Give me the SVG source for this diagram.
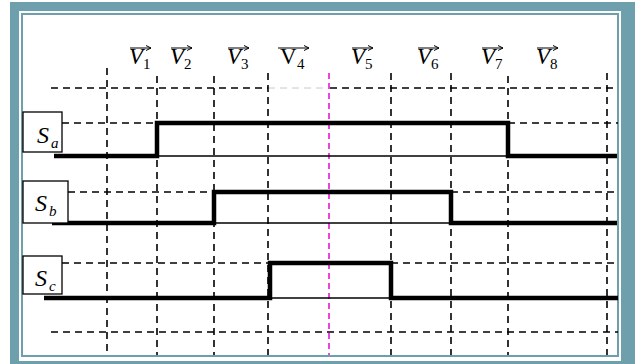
<svg xmlns="http://www.w3.org/2000/svg" width="635" height="364" viewBox="0 0 635 364">
<style>
.dash{stroke:#000;stroke-width:1.6;stroke-dasharray:7 5;fill:none}
.faint{stroke:#c8c8c8;stroke-width:1;stroke-dasharray:7 5;fill:none}
.mag{stroke:#ee44dd;stroke-width:2;stroke-dasharray:6 4;fill:none}
.sig{stroke:#000;stroke-width:4.5;fill:none;stroke-linejoin:miter}
.base{stroke:#000;stroke-width:1.3;fill:none}
.box{fill:#fff;stroke:#000;stroke-width:1.3}
.lbl{font-family:"Liberation Serif",serif;font-style:italic;font-size:23px;fill:#000}
.slbl{font-family:"Liberation Serif",serif;font-style:italic;font-size:24px;fill:#000}
.sub{font-family:"Liberation Serif",serif;font-style:italic;font-size:15px;fill:#000}
.subn{font-family:"Liberation Serif",serif;font-size:15px;fill:#000}
.arr{stroke:#000;stroke-width:1;fill:none}
</style>
<defs>
<marker id="ah" markerWidth="6" markerHeight="6" refX="5" refY="3" orient="auto" markerUnits="userSpaceOnUse">
<path d="M0,0.5 L5,3 L0,5.5" fill="none" stroke="#000" stroke-width="1"/>
</marker>
</defs>
<rect x="0" y="0" width="635" height="364" fill="#fff"/>
<rect x="10" y="2" width="625" height="362" fill="#6e9fad"/>
<rect x="19" y="11" width="602" height="350" fill="#fff"/>
<rect x="22" y="14" width="596" height="342" fill="none" stroke="#6e9fad" stroke-width="2"/>

<g id="grid">
<line class="dash" x1="51" y1="88" x2="268" y2="88"/>
<line class="faint" x1="268" y1="88" x2="330" y2="88"/>
<line class="dash" x1="330" y1="88" x2="618" y2="88"/>
<line class="dash" x1="62" y1="123" x2="157" y2="123"/>
<line class="dash" x1="508" y1="123" x2="618" y2="123"/>
<line class="dash" x1="68" y1="192" x2="214" y2="192"/>
<line class="dash" x1="451" y1="192" x2="618" y2="192"/>
<line class="dash" x1="62" y1="263" x2="270" y2="263"/>
<line class="dash" x1="391" y1="263" x2="618" y2="263"/>
<line class="dash" x1="51" y1="332" x2="618" y2="332"/>
<line class="dash" x1="107" y1="68" x2="107" y2="355"/>
<line class="dash" x1="157" y1="76" x2="157" y2="355"/>
<line class="dash" x1="214" y1="76" x2="214" y2="355"/>
<line class="dash" x1="268" y1="73" x2="268" y2="355"/>
<line class="dash" x1="391" y1="73" x2="391" y2="355"/>
<line class="dash" x1="451" y1="73" x2="451" y2="355"/>
<line class="dash" x1="508" y1="76" x2="508" y2="355"/>
<line class="dash" x1="607" y1="73" x2="607" y2="355"/>
<line class="mag" x1="329" y1="73" x2="329" y2="355"/>
</g>

<g id="labels">
<g id="V1"><line class="arr" x1="130" y1="48" x2="151" y2="48" marker-end="url(#ah)"/><text class="lbl" x="129" y="64">V</text><text class="subn" x="143" y="69">1</text></g>
<g id="V2"><line class="arr" x1="171" y1="48" x2="192" y2="48" marker-end="url(#ah)"/><text class="lbl" x="170" y="64">V</text><text class="subn" x="184" y="69">2</text></g>
<g id="V3"><line class="arr" x1="228" y1="48" x2="249" y2="48" marker-end="url(#ah)"/><text class="lbl" x="227" y="64">V</text><text class="subn" x="241" y="69">3</text></g>
<g id="V4"><line class="arr" x1="278" y1="48" x2="309" y2="48" marker-end="url(#ah)"/><text class="lbl" style="font-style:normal" x="280" y="64">V</text><text class="subn" x="297" y="69">4</text></g>
<g id="V5"><line class="arr" x1="352" y1="48" x2="373" y2="48" marker-end="url(#ah)"/><text class="lbl" x="351" y="64">V</text><text class="subn" x="365" y="69">5</text></g>
<g id="V6"><line class="arr" x1="418" y1="48" x2="439" y2="48" marker-end="url(#ah)"/><text class="lbl" x="417" y="64">V</text><text class="subn" x="431" y="69">6</text></g>
<g id="V7"><line class="arr" x1="482" y1="48" x2="503" y2="48" marker-end="url(#ah)"/><text class="lbl" x="481" y="64">V</text><text class="subn" x="495" y="69">7</text></g>
<g id="V8"><line class="arr" x1="537" y1="48" x2="558" y2="48" marker-end="url(#ah)"/><text class="lbl" x="536" y="64">V</text><text class="subn" x="550" y="69">8</text></g>
</g>

<g id="connectors">
<line class="base" x1="157" y1="156" x2="508" y2="156"/>
<polyline class="sig" points="54,156 157,156 157,123 508,123 508,156 617,156"/>
<line class="base" x1="214" y1="223" x2="451" y2="223"/>
<polyline class="sig" points="52,223 214,223 214,192 451,192 451,223 617,223"/>
<line class="base" x1="270" y1="298" x2="391" y2="298"/>
<polyline class="sig" points="44,298 270,298 270,263 391,263 391,298 618,298"/>
</g>

<g id="Sa"><rect class="box" x="23" y="112" width="39" height="40"/><text class="slbl" x="37" y="143">S</text><text class="sub" x="51" y="148">a</text></g>
<g id="Sb"><rect class="box" x="23" y="181" width="45" height="42"/><text class="slbl" x="35" y="211">S</text><text class="sub" x="49" y="216">b</text></g>
<g id="Sc"><rect class="box" x="23" y="256" width="39" height="38"/><text class="slbl" x="35" y="286">S</text><text class="sub" x="49" y="291">c</text></g>
</svg>
